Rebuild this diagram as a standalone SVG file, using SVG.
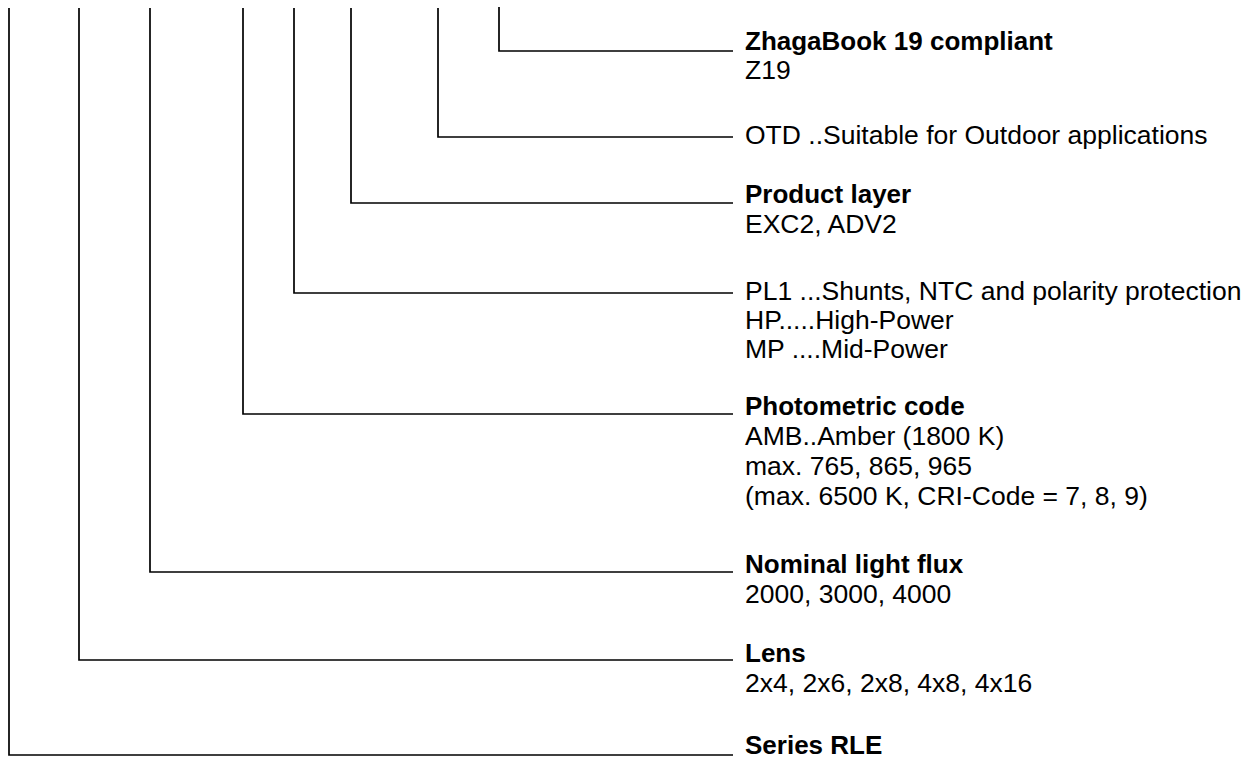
<svg xmlns="http://www.w3.org/2000/svg" width="1256" height="758" viewBox="0 0 1256 758">
<style>
.c{fill:none;stroke:#000;stroke-width:1.7}
text{font-family:"Liberation Sans",Arial,sans-serif;font-size:26.5px;fill:#000}
.b{font-weight:bold;font-size:26px}
</style>
<rect width="1256" height="758" fill="#fff"/>
<g id="connectors">
<path class="c" d="M499,7V51H733"/>
<path class="c" d="M438,8V137H733"/>
<path class="c" d="M351,8V203H733"/>
<path class="c" d="M294,8V293H733"/>
<path class="c" d="M243,8V414H733"/>
<path class="c" d="M150,8V572H733"/>
<path class="c" d="M79,8V660H733"/>
<path class="c" d="M9,8V755H733"/>
</g>
<g id="zhaga"><text x="745" y="50" class="b">ZhagaBook 19 compliant</text><text x="745" y="79">Z19</text></g>
<g id="otd"><text x="745" y="144">OTD ..Suitable for Outdoor applications</text></g>
<g id="product"><text x="745" y="203" class="b">Product layer</text><text x="745" y="233">EXC2, ADV2</text></g>
<g id="pl"><text x="745" y="300">PL1 ...Shunts, NTC and polarity protection</text><text x="745" y="329">HP.....High-Power</text><text x="745" y="358">MP ....Mid-Power</text></g>
<g id="photo"><text x="745" y="415" class="b">Photometric code</text><text x="745" y="445">AMB..Amber (1800 K)</text><text x="745" y="475">max. 765, 865, 965</text><text x="745" y="505">(max. 6500 K, CRI-Code = 7, 8, 9)</text></g>
<g id="flux"><text x="745" y="573" class="b">Nominal light flux</text><text x="745" y="603">2000, 3000, 4000</text></g>
<g id="lens"><text x="745" y="662" class="b">Lens</text><text x="745" y="692">2x4, 2x6, 2x8, 4x8, 4x16</text></g>
<g id="series"><text x="745" y="754" class="b">Series RLE</text></g>
</svg>
